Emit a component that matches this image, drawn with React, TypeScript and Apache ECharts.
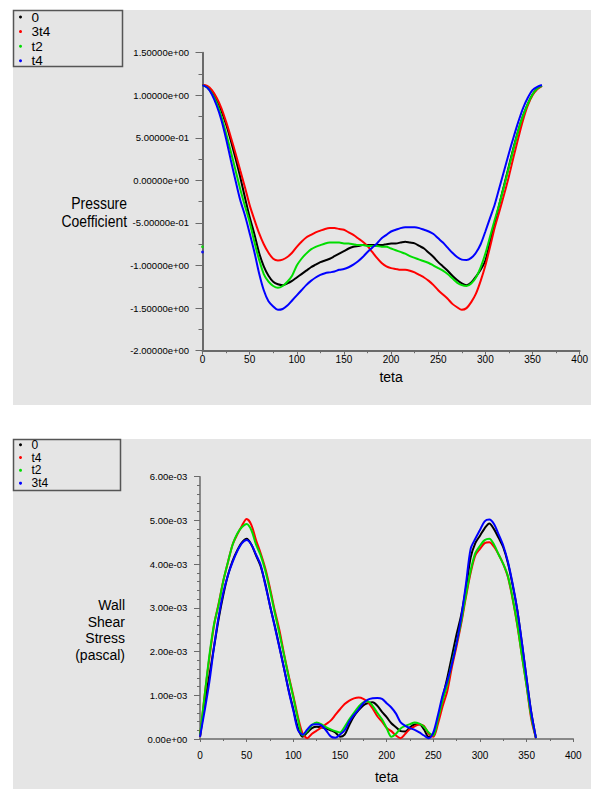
import React, { useEffect, useRef } from "react";
import * as echarts from "echarts";

// ---------- shared sampling of the angle (deg) ----------
const THETA_STEP = 5;
const THETA: number[] = Array.from({ length: 73 }, (_, i) => i * THETA_STEP);

// ---------- top chart: Pressure Coefficient ----------
const cp0 = [
  1.12, 1.1, 1.04, 0.95, 0.82, 0.66, 0.47, 0.26, 0.04, -0.2, -0.43, -0.63, -0.85, -1.01, -1.12, -1.19,
  -1.22, -1.23, -1.21, -1.18, -1.14, -1.1, -1.06, -1.02, -0.99, -0.96, -0.94, -0.92, -0.89, -0.86, -0.83,
  -0.8, -0.78, -0.77, -0.76, -0.76, -0.76, -0.76, -0.76, -0.75, -0.74, -0.74, -0.73, -0.72, -0.73, -0.74,
  -0.77, -0.8, -0.85, -0.9, -0.96, -1.01, -1.06, -1.12, -1.17, -1.21, -1.23, -1.2, -1.13, -1.05, -0.94,
  -0.72, -0.5, -0.27, -0.05, 0.17, 0.39, 0.59, 0.76, 0.9, 1.01, 1.08, 1.11,
];
const cp3t4 = [
  1.12, 1.11, 1.06, 0.97, 0.85, 0.69, 0.51, 0.32, 0.12, -0.08, -0.29, -0.46, -0.62, -0.75, -0.85, -0.92,
  -0.94, -0.93, -0.9, -0.85, -0.78, -0.72, -0.67, -0.64, -0.61, -0.59, -0.57, -0.56, -0.56, -0.57, -0.58,
  -0.61, -0.64, -0.68, -0.72, -0.77, -0.84, -0.91, -0.97, -1.01, -1.03, -1.04, -1.05, -1.05, -1.06, -1.08,
  -1.11, -1.14, -1.18, -1.23, -1.29, -1.34, -1.39, -1.45, -1.49, -1.52, -1.5, -1.43, -1.33, -1.18, -1.0,
  -0.78, -0.55, -0.36, -0.16, 0.05, 0.28, 0.5, 0.71, 0.88, 1.0, 1.07, 1.11,
];
const cpT2 = [
  1.12, 1.09, 1.02, 0.91, 0.75, 0.55, 0.34, 0.12, -0.1, -0.3, -0.49, -0.72, -0.93, -1.1, -1.19, -1.24,
  -1.26, -1.24, -1.19, -1.12, -1.0, -0.92, -0.86, -0.81, -0.78, -0.76, -0.74, -0.73, -0.73, -0.73, -0.74,
  -0.74, -0.75, -0.76, -0.76, -0.77, -0.77, -0.77, -0.78, -0.78, -0.8, -0.82, -0.84, -0.86, -0.89, -0.91,
  -0.93, -0.95, -0.97, -1.0, -1.03, -1.06, -1.1, -1.15, -1.2, -1.23, -1.24, -1.21, -1.14, -1.02, -0.86,
  -0.66, -0.46, -0.27, -0.06, 0.16, 0.38, 0.59, 0.76, 0.9, 1.01, 1.08, 1.11,
];
const cpT4 = [
  1.12, 1.09, 1.01, 0.88, 0.71, 0.49, 0.24, 0.0, -0.23, -0.41, -0.62, -0.84, -1.09, -1.29, -1.42, -1.48,
  -1.52, -1.51, -1.47, -1.41, -1.35, -1.29, -1.23, -1.18, -1.14, -1.11, -1.09, -1.08, -1.07, -1.05, -1.04,
  -1.02, -0.99, -0.95, -0.9, -0.84, -0.79, -0.74, -0.68, -0.64, -0.6, -0.58, -0.56, -0.55, -0.55, -0.55,
  -0.56, -0.58, -0.6, -0.63, -0.68, -0.73, -0.79, -0.85, -0.9, -0.93, -0.935, -0.91, -0.85, -0.75, -0.6,
  -0.44, -0.28, -0.08, 0.12, 0.32, 0.51, 0.69, 0.85, 0.97, 1.06, 1.1, 1.12,
];
// stray points at teta = 0
const cpT2Extra = [[0, -0.78]];
const cpT4Extra = [[0, -0.84]];
const CP_TICKS = { min: -2, max: 1.5, interval: 0.5 };

// ---------- bottom chart: Wall Shear Stress (values in 1e-3 pascal) ----------
const ws0 = [
  0.05, 0.8, 1.45, 2.1, 2.75, 3.3, 3.75, 4.08, 4.32, 4.5, 4.58, 4.45, 4.2, 3.95, 3.55, 3.05, 2.6, 2.12,
  1.62, 1.12, 0.68, 0.25, 0.05, 0.15, 0.25, 0.28, 0.27, 0.24, 0.2, 0.15, 0.05, 0.1, 0.32, 0.52, 0.66, 0.77,
  0.82, 0.84, 0.76, 0.62, 0.5, 0.36, 0.27, 0.18, 0.17, 0.27, 0.33, 0.34, 0.22, 0.05, 0.1, 0.45, 0.95, 1.4,
  1.9, 2.4, 2.85, 3.45, 4.15, 4.48, 4.65, 4.82, 4.93, 4.8, 4.6, 4.38, 4.02, 3.52, 2.95, 2.18, 1.37, 0.6, 0.02,
];
const wsT4 = [
  0.05, 1.0, 1.85, 2.6, 3.1, 3.62, 4.05, 4.45, 4.68, 4.88, 5.03, 4.9, 4.55, 4.25, 3.9, 3.45, 2.95, 2.5,
  1.95, 1.45, 0.99, 0.5, 0.12, 0.02, 0.12, 0.19, 0.26, 0.34, 0.42, 0.55, 0.68, 0.8, 0.88, 0.93, 0.95, 0.92,
  0.84, 0.7, 0.52, 0.4, 0.25, 0.18, 0.08, 0.02, 0.12, 0.23, 0.29, 0.33, 0.3, 0.12, 0.05, 0.35, 0.75, 1.1,
  1.65, 2.13, 2.65, 3.25, 3.8, 4.2, 4.35, 4.48, 4.5, 4.4, 4.22, 4.0, 3.7, 3.2, 2.6, 1.9, 1.21, 0.45, 0.02,
];
const wsT2 = [
  0.08, 1.0, 1.9, 2.62, 3.08, 3.62, 4.05, 4.45, 4.7, 4.85, 4.92, 4.78, 4.45, 4.2, 3.85, 3.4, 2.9, 2.42,
  1.92, 1.42, 0.95, 0.45, 0.08, 0.18, 0.32, 0.38, 0.34, 0.27, 0.22, 0.18, 0.15, 0.28, 0.45, 0.6, 0.74, 0.84,
  0.86, 0.76, 0.6, 0.45, 0.25, 0.05, 0.12, 0.24, 0.3, 0.34, 0.38, 0.35, 0.28, 0.15, 0.08, 0.45, 0.88, 1.25,
  1.75, 2.2, 2.7, 3.3, 3.85, 4.25, 4.42, 4.55, 4.58, 4.45, 4.22, 4.0, 3.72, 3.22, 2.62, 1.9, 1.21, 0.5, 0.02,
];
const ws3t4 = [
  0.05, 0.65, 1.3, 2.1, 2.8, 3.35, 3.75, 4.05, 4.3, 4.48, 4.55, 4.45, 4.22, 3.98, 3.52, 3.05, 2.58, 2.1,
  1.62, 1.1, 0.65, 0.2, 0.1, 0.22, 0.33, 0.34, 0.31, 0.2, 0.06, 0.03, 0.1, 0.2, 0.4, 0.55, 0.68, 0.82, 0.9,
  0.93, 0.94, 0.92, 0.82, 0.72, 0.58, 0.38, 0.3, 0.25, 0.21, 0.15, 0.08, 0.02, 0.15, 0.55, 1.0, 1.33, 1.72,
  2.2, 2.8, 3.55, 4.35, 4.58, 4.78, 4.98, 5.02, 4.92, 4.68, 4.42, 4.05, 3.55, 2.95, 2.2, 1.37, 0.6, 0.02,
];
const WS_TICKS = { min: 0, max: 6, interval: 1 };

const X_TICKS = { min: 0, max: 400, interval: 50 };

const FONT = "'Liberation Sans', Arial, sans-serif";
const BG = "#e5e5e5";
const AXIS = "#6a6a6a";

function sci(v: number, d: number): string {
  const s = v.toExponential(d);
  const [m, e] = s.split("e");
  const sign = e[0];
  const digits = e.slice(1).padStart(2, "0");
  return m + "e" + sign + digits;
}

const pair = (vals: number[]) => vals.map((v, i) => [THETA[i], v]);

function lineSeries(name: string, color: string, vals: number[]) {
  return {
    type: "line",
    name,
    data: pair(vals),
    smooth: 0.3,
    showSymbol: false,
    symbol: "circle",
    lineStyle: { color, width: 2 },
    itemStyle: { color },
    z: 3,
  };
}

function axisCommon(fontSize: number) {
  return { fontSize, color: "#000", fontFamily: FONT };
}

function topOption(): any {
  return {
    animation: false,
    backgroundColor: "#ffffff",
    textStyle: { fontFamily: FONT },
    graphic: [
      { type: "rect", z: -10, shape: { x: 13, y: 10, width: 578, height: 395 }, style: { fill: BG } },
      {
        type: "rect",
        z: 1,
        shape: { x: 13.5, y: 10.5, width: 109, height: 56 },
        style: { fill: "none", stroke: "#555", lineWidth: 1.5 },
      },
      {
        type: "text",
        z: 1,
        x: 127,
        y: 212,
        scaleX: 0.87,
        style: {
          text: "Pressure\nCoefficient",
          align: "right",
          verticalAlign: "middle",
          fontSize: 16,
          lineHeight: 18.5,
          fontFamily: FONT,
          fill: "#000",
        },
      },
    ],
    legend: {
      orient: "vertical",
      left: 19,
      top: 10,
      padding: 0,
      itemWidth: 12,
      itemHeight: 3,
      itemGap: 0.6,
      icon: "circle",
      selectedMode: false,
      data: ["0", "3t4", "t2", "t4"],
      textStyle: { fontSize: 13.5, lineHeight: 14, color: "#000", fontFamily: FONT },
    },
    grid: { left: 202.5, top: 52.7, width: 378.5, height: 298 },
    xAxis: {
      type: "value",
      ...X_TICKS,
      name: "teta",
      nameLocation: "middle",
      nameGap: 17,
      nameTextStyle: axisCommon(14),
      splitLine: { show: false },
      axisLine: { onZero: false, lineStyle: { color: AXIS, width: 2 } },
      axisTick: { length: 4, lineStyle: { color: AXIS, width: 1 } },
      minorTick: { show: true, splitNumber: 2, length: 2.5, lineStyle: { color: AXIS, width: 1 } },
      axisLabel: { margin: 4, ...axisCommon(10) },
    },
    yAxis: {
      type: "value",
      ...CP_TICKS,
      splitLine: { show: false },
      axisLine: { show: true, onZero: false, lineStyle: { color: AXIS, width: 2 } },
      axisTick: { show: true, length: 7, lineStyle: { color: AXIS, width: 1 } },
      minorTick: { show: true, splitNumber: 2, length: 4, lineStyle: { color: AXIS, width: 1 } },
      axisLabel: { margin: 13.4, ...axisCommon(9.5), formatter: (v: number) => sci(v, 5) },
    },
    series: [
      lineSeries("0", "#000000", cp0),
      lineSeries("3t4", "#ff0000", cp3t4),
      lineSeries("t2", "#00dd00", cpT2),
      lineSeries("t4", "#0000ff", cpT4),
      { type: "scatter", name: "t2", data: cpT2Extra, symbolSize: 3, itemStyle: { color: "#00dd00" } },
      { type: "scatter", name: "t4", data: cpT4Extra, symbolSize: 3, itemStyle: { color: "#0000ff" } },
    ],
  };
}

function bottomOption(): any {
  return {
    animation: false,
    backgroundColor: "#ffffff",
    textStyle: { fontFamily: FONT },
    graphic: [
      { type: "rect", z: -10, shape: { x: 13, y: 19, width: 578, height: 350 }, style: { fill: BG } },
      {
        type: "rect",
        z: 1,
        shape: { x: 13.5, y: 19.5, width: 107, height: 51 },
        style: { fill: "none", stroke: "#555", lineWidth: 1.5 },
      },
      {
        type: "text",
        z: 1,
        x: 125,
        y: 210,
        style: {
          text: "Wall\nShear\nStress\n(pascal)",
          align: "right",
          verticalAlign: "middle",
          fontSize: 14,
          lineHeight: 16.5,
          fontFamily: FONT,
          fill: "#000",
        },
      },
    ],
    legend: {
      orient: "vertical",
      left: 19,
      top: 18.5,
      padding: 0,
      itemWidth: 12,
      itemHeight: 3,
      itemGap: 0.3,
      icon: "circle",
      selectedMode: false,
      data: ["0", "t4", "t2", "3t4"],
      textStyle: { fontSize: 12, lineHeight: 12.5, color: "#000", fontFamily: FONT },
    },
    grid: { left: 200, top: 56.7, width: 373.3, height: 263.3 },
    xAxis: {
      type: "value",
      ...X_TICKS,
      name: "teta",
      nameLocation: "middle",
      nameGap: 31,
      nameTextStyle: axisCommon(14),
      splitLine: { show: false },
      axisLine: { onZero: false, lineStyle: { color: AXIS, width: 1.5 } },
      axisTick: { length: 3, lineStyle: { color: AXIS, width: 1 } },
      minorTick: { show: true, splitNumber: 2, length: 2, lineStyle: { color: AXIS, width: 1 } },
      axisLabel: { margin: 11, ...axisCommon(10) },
    },
    yAxis: {
      type: "value",
      ...WS_TICKS,
      splitLine: { show: false },
      axisLine: { show: true, onZero: false, lineStyle: { color: AXIS, width: 1.5 } },
      axisTick: { show: true, length: 6, lineStyle: { color: AXIS, width: 1 } },
      minorTick: { show: true, splitNumber: 5, length: 3, lineStyle: { color: AXIS, width: 1 } },
      axisLabel: { margin: 12.7, ...axisCommon(9.5), formatter: (v: number) => sci(v / 1000, 2) },
    },
    series: [
      lineSeries("0", "#000000", ws0),
      lineSeries("t4", "#ff0000", wsT4),
      lineSeries("t2", "#00dd00", wsT2),
      lineSeries("3t4", "#0000ff", ws3t4),
    ],
  };
}

export default function App() {
  const topRef = useRef<HTMLDivElement>(null);
  const botRef = useRef<HTMLDivElement>(null);

  useEffect(() => {
    const top = echarts.init(topRef.current!, undefined, { renderer: "svg" });
    const bot = echarts.init(botRef.current!, undefined, { renderer: "svg" });
    top.setOption(topOption());
    bot.setOption(bottomOption());
    return () => {
      top.dispose();
      bot.dispose();
    };
  }, []);

  return (
    <div style={{ position: "absolute", left: 0, top: 0, width: 591, height: 789, background: "#fff" }}>
      <div ref={topRef} style={{ position: "absolute", left: 0, top: 0, width: 591, height: 420 }} />
      <div ref={botRef} style={{ position: "absolute", left: 0, top: 420, width: 591, height: 369 }} />
    </div>
  );
}
